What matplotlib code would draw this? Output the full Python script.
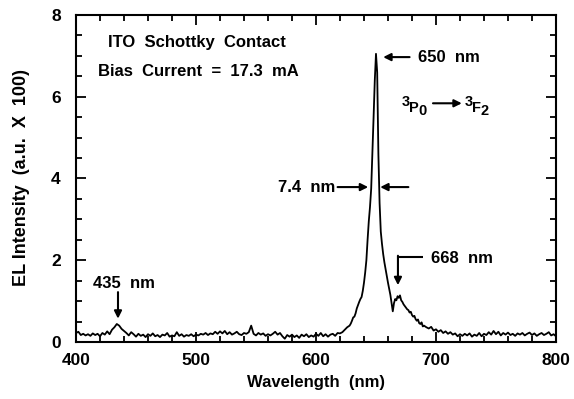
import numpy as np
import matplotlib
matplotlib.use("Agg")
import matplotlib.pyplot as plt

plt.rcParams['font.family'] = ['Liberation Sans', 'DejaVu Sans']
plt.rcParams['font.weight'] = 'bold'

# ---- data ----
wl_blue = np.arange(400, 629, 2)
int_blue = [0.22, 0.25, 0.17, 0.20, 0.16, 0.19, 0.15, 0.21, 0.17, 0.20,
            0.14, 0.22, 0.18, 0.26, 0.19, 0.30, 0.36, 0.44, 0.40, 0.32,
            0.27, 0.22, 0.16, 0.24, 0.19, 0.13, 0.20, 0.15, 0.18, 0.12,
            0.19, 0.15, 0.21, 0.14, 0.17, 0.12, 0.18, 0.16, 0.22, 0.13,
            0.16, 0.14, 0.24, 0.15, 0.19, 0.13, 0.17, 0.15, 0.19, 0.14,
            0.18, 0.16, 0.20, 0.18, 0.22, 0.17, 0.21, 0.19, 0.25, 0.20,
            0.26, 0.21, 0.27, 0.19, 0.24, 0.18, 0.21, 0.25, 0.19, 0.17,
            0.22, 0.20, 0.24, 0.40, 0.20, 0.16, 0.22, 0.18, 0.21, 0.15,
            0.19, 0.16, 0.20, 0.25, 0.18, 0.22, 0.14, 0.08, 0.17, 0.13,
            0.18, 0.12, 0.16, 0.10, 0.18, 0.14, 0.19, 0.12, 0.16, 0.13,
            0.20, 0.15, 0.22, 0.14, 0.19, 0.13, 0.18, 0.20, 0.15, 0.22,
            0.21, 0.24, 0.30, 0.36, 0.40]
wl_peak = np.arange(629, 691, 1)
int_peak = [0.45, 0.52, 0.60, 0.62, 0.70, 0.82, 0.90, 0.98, 1.05, 1.10,
            1.25, 1.45, 1.70, 2.00, 2.50, 2.95, 3.30, 3.75, 4.60, 5.50,
            6.40, 7.05, 6.60, 4.60, 3.40, 2.70, 2.40, 2.15, 1.95, 1.78,
            1.62, 1.45, 1.30, 1.15, 0.95, 0.75, 0.95, 1.05, 1.02, 1.12,
            1.08, 1.14, 1.02, 0.98, 0.92, 0.88, 0.84, 0.80, 0.78, 0.72,
            0.74, 0.66, 0.62, 0.64, 0.56, 0.52, 0.55, 0.46, 0.44, 0.48,
            0.38, 0.40]
wl_red = np.arange(692, 801, 2)
int_red = [0.36, 0.33, 0.37, 0.28, 0.31, 0.25, 0.29, 0.22, 0.26, 0.20,
           0.24, 0.18, 0.21, 0.14, 0.19, 0.15, 0.20, 0.16, 0.21, 0.13,
           0.18, 0.15, 0.22, 0.14, 0.20, 0.17, 0.24, 0.18, 0.27, 0.19,
           0.25, 0.16, 0.22, 0.18, 0.23, 0.17, 0.20, 0.15, 0.21, 0.18,
           0.22, 0.16, 0.20, 0.23, 0.17, 0.21, 0.15, 0.19, 0.22, 0.17,
           0.20, 0.24, 0.16, 0.19, 0.14]

wavelength = np.concatenate([wl_blue, wl_peak, wl_red])
intensity = np.concatenate([int_blue, int_peak, int_red])

xticks = [400, 500, 600, 700, 800]
yticks = [0, 2, 4, 6, 8]

# ---- figure ----
fig = plt.figure(figsize=(5.74, 3.99), dpi=100)
ax = fig.add_axes([0.1324, 0.1429, 0.8362, 0.8195])
ax.plot(wavelength, intensity, color='black', lw=1.3)
ax.set_xlim(400, 800)
ax.set_ylim(0, 8)
ax.set_xticks(xticks)
ax.set_yticks(yticks)
ax.set_xticks(np.arange(400, 801, 20), minor=True)
ax.set_yticks(np.arange(0, 8.01, 0.5), minor=True)
ax.tick_params(which='both', direction='in', top=True, right=True, width=1.3)
ax.tick_params(which='major', length=7, labelsize=12.5)
ax.tick_params(which='minor', length=4)
ax.tick_params(axis='x', which='major', pad=8)
ax.tick_params(axis='y', which='major', pad=11)
for s in ax.spines.values():
    s.set_linewidth(1.5)
for lab in ax.get_xticklabels() + ax.get_yticklabels():
    lab.set_fontweight('bold')

ax.set_xlabel('Wavelength  (nm)', fontsize=12, fontweight='bold', labelpad=5)
fig.text(22 / 574, 1 - 177 / 399, 'EL Intensity  (a.u.  X  100)', fontsize=13,
         fontweight='bold', rotation=90, ha='center', va='center')

fs = 12
ax.text(426.5, 7.32, 'ITO  Schottky  Contact', fontsize=fs, fontweight='bold', va='center')
ax.text(418.5, 6.62, 'Bias  Current  =  17.3  mA', fontsize=fs, fontweight='bold', va='center')

ap = dict(arrowstyle='-|>', color='black', lw=1.5, mutation_scale=11, shrinkA=0, shrinkB=0)

# 650 nm
ax.annotate('', xy=(656, 6.97), xytext=(678, 6.97), arrowprops=ap)
ax.text(685, 6.97, '650  nm', fontsize=fs, fontweight='bold', va='center')

# transition 3P0 -> 3F2
sfs = 10.5
ax.text(671.5, 5.86, '3', fontsize=sfs, fontweight='bold', va='center')
ax.text(677.5, 5.72, 'P', fontsize=sfs, fontweight='bold', va='center')
ax.text(685.5, 5.64, '0', fontsize=sfs, fontweight='bold', va='center')
ax.annotate('', xy=(721.5, 5.84), xytext=(697.5, 5.84), arrowprops=ap)
ax.text(724, 5.86, '3', fontsize=sfs, fontweight='bold', va='center')
ax.text(730, 5.72, 'F', fontsize=sfs, fontweight='bold', va='center')
ax.text(737.5, 5.64, '2', fontsize=sfs, fontweight='bold', va='center')

# FWHM
ax.text(568, 3.79, '7.4  nm', fontsize=fs, fontweight='bold', va='center')
ax.annotate('', xy=(643.5, 3.79), xytext=(618, 3.79), arrowprops=ap)
ax.annotate('', xy=(653.5, 3.79), xytext=(677, 3.79), arrowprops=ap)

# 435 nm
ax.text(440, 1.44, '435  nm', fontsize=fs, fontweight='bold', ha='center', va='center')
ax.annotate('', xy=(435, 0.57), xytext=(435, 1.22), arrowprops=ap)

# 668 nm
ax.plot([689, 668.3], [2.07, 2.07], color='black', lw=1.5, solid_capstyle='butt')
ax.annotate('', xy=(668.3, 1.39), xytext=(668.3, 2.11), arrowprops=ap)
ax.text(696, 2.04, '668  nm', fontsize=fs, fontweight='bold', va='center')

fig.savefig('out.png', dpi=100)
